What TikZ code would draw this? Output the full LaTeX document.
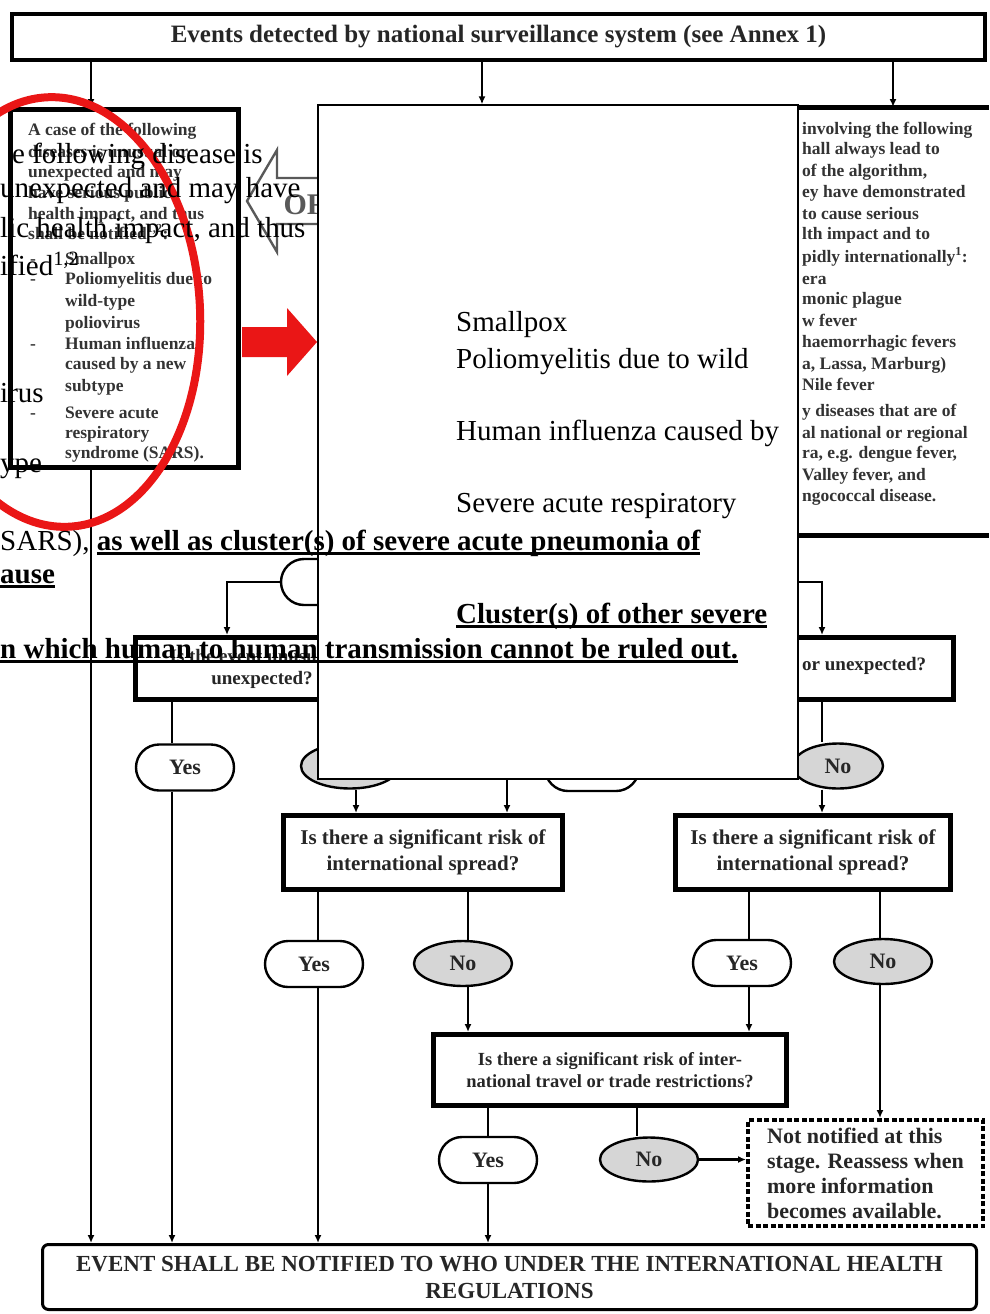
\documentclass[tikz,border=0pt]{standalone}
\usepackage{fontspec}
\setmainfont{Liberation Serif}
\usetikzlibrary{arrows.meta,shapes.geometric,shapes.misc}
\definecolor{nogray}{RGB}{214,214,214}
\definecolor{markred}{RGB}{234,22,22}
\newcommand\ulbf[1]{\setbox0\hbox{\bfseries#1}\rlap{\rule[-4.5pt]{\wd0}{2.6pt}}\box0}

\begin{document}
\begin{tikzpicture}[x=1pt,y=-1pt,
  frame/.style={draw,line width=5pt,fill=white,align=center,inner sep=0pt,text=black!85},
  yesbox/.style={rounded rectangle,draw,line width=2.4pt,fill=white,minimum width=98pt,minimum height=46pt,inner sep=0pt,text=black!85,font=\fontsize{22}{24}\selectfont\bfseries},
  nobox/.style={ellipse,draw,line width=2.4pt,fill=nogray,minimum width=98pt,minimum height=45pt,inner sep=0pt,text=black!85,font=\fontsize{22}{24}\selectfont\bfseries},
  listtxt/.style={anchor=base west,inner sep=0pt,text=black!80,font=\fontsize{17.5}{20}\selectfont\bfseries},
  over/.style={anchor=base west,inner sep=0pt,font=\fontsize{29}{36}\selectfont},
  link/.style={line width=1.8pt},
  arr/.style={link,-{Latex[length=8pt,width=7pt]}}]
\useasboundingbox (0,0) rectangle (989,1314);

\node[frame,line width=4pt,minimum width=973pt,minimum height=46pt,font=\fontsize{25}{27}\selectfont\bfseries] (events) at (498.5,37) {Events detected by national surveillance system (see Annex 1)};

\node[draw,line width=5pt,minimum width=228pt,minimum height=358pt] (listbox) at (124,288.5) {};
\foreach \xx/\yy/\tx [count=\i] in {28/135/{A case of the following},28/157/{diseases is unusual or},28/177/{unexpected and may},28/198/{have serious public},28/219/{health impact, and thus},28/239/{shall be notified\textsuperscript{1,2}:},30/264/-,65/264/Smallpox,30/284/-,65/284/{Poliomyelitis due to},65/306/wild-type,65/328/poliovirus,30/349/-,65/349/{Human influenza},65/369/{caused by a new},65/391/subtype,30/418/-,65/418/{Severe acute},65/438/respiratory,65/458/{syndrome (SARS).}}
  \node[listtxt] (left\i) at (\xx,\yy) {\tx};

\coordinate (diseasetop) at (893,107);
\draw[line width=5pt] (700,107) -- (989,107) (700,535) -- (989,535);
\foreach \yy/\tx [count=\i] in {134/{involving the following},154/{hall always lead to},176/{of the algorithm,},197/{ey have demonstrated},219/{to cause serious},239/{lth impact and to},262/{pidly internationally\textsuperscript{1}:},284/era,304/{monic plague},326/{w fever},347/{haemorrhagic fevers},369/{a, Lassa, Marburg)},390/{Nile fever},416/{y diseases that are of},438/{al national or regional},458/{ra, e.g. dengue fever,},480/{Valley fever, and},501/{ngococcal disease.}}
  \node[listtxt] (right\i) at (802,\yy) {\tx};

\draw[arr] ([xshift=-33pt]listbox.north |- events.south) -- ([xshift=-33pt]listbox.north);
\draw[arr] (diseasetop |- events.south) -- (diseasetop);

\draw[line width=2.4pt,black!65,fill=white] (247,201) -- (277,150) -- (277,178) -- (345,178) -- (345,224) -- (277,224) -- (277,252) -- cycle;
\node[text=black!65,font=\fontsize{30}{30}\selectfont\bfseries] (orlabel) at (306,205) {OR};
\fill[markred] (242,327) -- (287,327) -- (287,308) -- (317,342) -- (287,376) -- (287,357) -- (242,357) -- cycle;

\node[frame,minimum width=254pt,minimum height=62pt,font=\fontsize{19}{22}\selectfont\bfseries] (unusualL) at (262,668.5) {Is the event unusual or\\unexpected?};
\node[frame,minimum width=262pt,minimum height=62pt] (unusualR) at (822,668.5) {};
\node[listtxt,font=\fontsize{19}{22}\selectfont\bfseries,text=black!85] (unusualRtext) at (802,670) {or unexpected?};
\node[yesbox] (seriousYes) at (330,582) {};
\draw[arr] (seriousYes.west) -| ([xshift=-35pt]unusualL.north);

\node[yesbox] (yesL) at (185,767.5) {Yes};
\node[nobox] (noL) at (350,766) {No};
\node[yesbox,minimum width=94pt] (yesM) at (592,768) {Yes};
\node[nobox,minimum width=90pt] (noR) at (838,766) {No};
\node[frame,minimum width=279pt,minimum height=74pt,font=\fontsize{21}{26}\selectfont\bfseries] (riskL) at (423,852.5) {Is there a significant risk of\\international spread?};
\node[frame,minimum width=275pt,minimum height=74pt,font=\fontsize{21}{26}\selectfont\bfseries] (riskR) at (813,852.5) {Is there a significant risk of\\international spread?};
\node[yesbox] (yesA) at (314,964) {Yes};
\node[nobox] (noA) at (463,963.5) {No};
\node[yesbox] (yesB) at (742,963) {Yes};
\node[nobox] (noB) at (883,961.5) {No};
\node[frame,minimum width=353pt,minimum height=71pt,font=\fontsize{18.5}{21.5}\selectfont\bfseries] (travel) at (610,1070) {Is there a significant risk of inter-\\national travel or trade restrictions?};
\node[yesbox] (yesC) at (488,1160) {Yes};
\node[nobox,minimum height=44pt] (noC) at (649,1159.5) {No};
\node[draw,line width=4pt,dash pattern=on 5pt off 2.5pt,minimum width=235pt,minimum height=106pt,align=left,text=black!85,font=\fontsize{22}{25}\selectfont\bfseries] (later) at (865.5,1173) {Not notified at this\\stage. Reassess when\\more information\\becomes available.};
\node[draw,rounded corners=6pt,line width=3pt,minimum width=934pt,minimum height=65pt,align=center,text=black!85,font=\fontsize{23}{27}\selectfont\bfseries] (notify) at (509.5,1277) {EVENT SHALL BE NOTIFIED TO WHO UNDER THE INTERNATIONAL HEALTH\\REGULATIONS};

\coordinate (xa) at (172,0);
\coordinate (xb) at (356,0);
\coordinate (xc) at (507,0);
\coordinate (xd) at (822,0);
\coordinate (xe) at (318,0);
\coordinate (xf) at (468,0);
\coordinate (xg) at (749,0);
\coordinate (xh) at (880,0);
\coordinate (xi) at (637,0);
\draw[arr] ([xshift=-33pt]listbox.south) -- ([xshift=-33pt]listbox.south |- notify.north);
\draw[link] (xa |- unusualL.south) -- (xa |- yesL.north);
\draw[arr] (xa |- yesL.south) -- (xa |- notify.north);
\draw[arr] (xb |- noL.south) -- (xb |- riskL.north);
\draw[link] (xd |- unusualR.south) -- (xd |- noR.north);
\draw[arr] (xd |- noR.south) -- (xd |- riskR.north);
\draw[link] (xe |- riskL.south) -- (xe |- yesA.north);
\draw[arr] (xe |- yesA.south) -- (xe |- notify.north);
\draw[link] (xf |- riskL.south) -- (xf |- noA.north);
\draw[arr] (xf |- noA.south) -- (xf |- travel.north);
\draw[link] (xg |- riskR.south) -- (xg |- yesB.north);
\draw[arr] (xg |- yesB.south) -- (xg |- travel.north);
\draw[link] (xh |- riskR.south) -- (xh |- noB.north);
\draw[arr] (xh |- noB.south) -- (xh |- later.north);
\draw[link] (travel.south -| yesC) -- (yesC.north);
\draw[arr] (yesC.south) -- (yesC.south |- notify.north);
\draw[link] (xi |- travel.south) -- (xi |- noC.north);
\draw[arr,line width=2.6pt] (noC.east) -- (noC.east -| later.west);

\draw[markred,line width=8pt,rotate around={3:(58,312)}] (58,312) ellipse [x radius=142pt,y radius=215pt];

\node[draw,fill=white,line width=1.3pt,minimum width=480pt,minimum height=674pt] (whitebox) at (558,442) {};
\draw[arr] ([xshift=-76pt]whitebox.north |- events.south) -- ([xshift=-76pt]whitebox.north);
\draw[arr] (whitebox.east |- seriousYes.west) -| (unusualR.north);
\draw[arr] (xc |- whitebox.south) -- (xc |- riskL.north);

\node[over] (frag1) at (12,163) {e following disease is};
\node[over] (frag2) at (0,197) {unexpected and may have};
\node[over] (frag3) at (0,237) {lic health impact, and thus};
\node[over] (frag4) at (0,275) {ified\textsuperscript{1,2}};
\node[over] (frag5) at (0,402) {irus};
\node[over] (frag6) at (0,472) {ype};
\node[over] (frag7) at (0,550) {SARS), \ulbf{as well as cluster(s) of severe acute pneumonia of}};
\node[over] (frag8) at (0,583) {\ulbf{ause}};
\node[over] (frag9) at (0,658) {\ulbf{n which human to human transmission cannot be ruled out.}};
\node[over] (mid1) at (456,331) {Smallpox};
\node[over] (mid2) at (456,368) {Poliomyelitis due to wild};
\node[over] (mid3) at (456,440) {Human influenza caused by};
\node[over] (mid4) at (456,512) {Severe acute respiratory};
\node[over] (mid5) at (456,623) {\ulbf{Cluster(s) of other severe}};
\end{tikzpicture}
\end{document}
